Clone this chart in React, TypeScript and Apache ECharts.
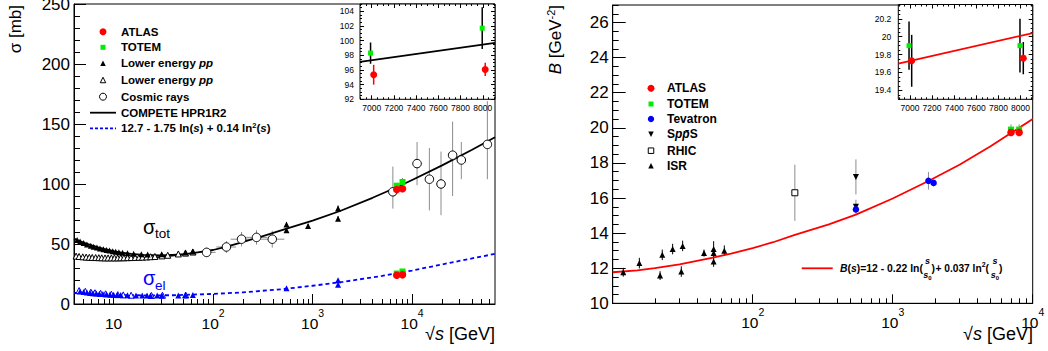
import React, { useEffect, useRef } from 'react';
import * as echarts from 'echarts';

const FONT = '"Liberation Sans", Arial, Helvetica, sans-serif';

// ================= LEFT PANEL: sigma_tot and sigma_el vs sqrt(s) =================
// low-energy total cross sections, filled triangles
const lowFilledSqrtS = [4.3, 4.6, 5.0, 5.4, 5.9, 6.3, 6.8, 7.3, 7.9, 8.5, 9.1, 9.8, 10.5, 11.3, 12.3, 13.8, 15.9, 19.0, 22.0, 30.4, 52.6, 62.3];
const lowFilledSigma = [53.3, 52.0, 50.8, 49.6, 48.6, 47.8, 47.0, 46.3, 45.6, 45.0, 44.5, 44.0, 43.6, 43.2, 42.8, 42.3, 41.8, 41.4, 41.2, 41.5, 43.0, 43.8];
// low-energy total cross sections, open triangles
const lowOpenSqrtS = [4.2, 4.5, 4.9, 5.3, 5.7, 6.1, 6.6, 7.1, 7.6, 8.2, 8.8, 9.5, 10.2, 11.0, 11.8, 12.7, 13.8, 15.0, 16.5, 18.0, 19.5, 21.5, 23.5, 26.0, 30.6, 35.0, 44.7, 52.8, 62.7];
const lowOpenSigma = [39.9, 39.6, 39.3, 39.1, 38.9, 38.8, 38.7, 38.6, 38.5, 38.4, 38.4, 38.4, 38.4, 38.4, 38.5, 38.5, 38.6, 38.7, 38.8, 38.9, 39.0, 39.2, 39.4, 39.6, 40.1, 40.6, 41.7, 42.4, 43.3];
// collider total cross sections (filled triangles)
const colliderSqrtS = [546, 546, 900, 1800, 1800];
const colliderSigma = [61.5, 66.3, 64.9, 71.1, 79.6];
const colliderErr = [1.5, 2.0, 1.8, 2.0, 2.4];
// cosmic rays
const cosmicSqrtS = [86, 136, 193, 273, 393, 6400, 11200, 14900, 19500, 25500, 31200, 57000];
const cosmicSigma = [43.0, 47.5, 54.0, 55.5, 54.0, 93.5, 117.0, 104.0, 100.0, 124.0, 120.0, 133.0];
const cosmicErrLow = [4, 5, 6, 6, 7, 14, 18, 26, 26, 34, 16, 29];
const cosmicErrHigh = [4, 5, 6, 6, 7, 21, 18, 26, 27, 28, 15, 36];
const cosmicSqrtSLow = [70, 108, 150, 215, 300, null, 10000, null, null, null, null, null];
const cosmicSqrtSHigh = [106, 170, 245, 350, 520, null, 12600, null, null, null, null, null];
// ATLAS / TOTEM
const lhcSqrtS = [7000, 8000];
const atlasSigmaTot = [95.35, 96.07];
const totemSigmaTot = [98.6, 101.7];
const totemSigmaTotErr = [2.2, 2.9];
const atlasSigmaEl = [24.0, 24.3];
const totemSigmaEl = [25.4, 27.1];
// elastic cross sections
const elFilledSqrtS = [4.6, 5.0, 5.4, 5.8, 6.2, 6.7, 7.2, 7.8, 8.5, 9.2, 10.0, 10.9, 11.8, 13.8, 16.8, 19.4, 21.7, 23.5, 27.4, 30.6, 44.7, 52.8, 62.5];
const elFilledSigma = [10.5, 9.9, 9.5, 9.2, 8.9, 8.7, 8.5, 8.3, 8.1, 7.9, 7.7, 7.6, 7.4, 7.3, 7.1, 7.0, 7.1, 7.0, 7.0, 7.0, 7.1, 7.2, 7.4];
const elOpenSqrtS = [4.5, 5.2, 5.9, 6.5, 7.4, 8.3, 9.5, 11.0, 12.5, 15.0, 24.0, 31.0, 53.0];
const elOpenSigma = [11.2, 10.6, 9.9, 9.4, 8.9, 8.5, 8.2, 7.8, 7.6, 7.3, 7.1, 7.3, 7.5];
const elColliderSqrtS = [546, 1800, 1800];
const elColliderSigma = [13.2, 16.0, 19.7];
const elColliderErr = [0.6, 0.8, 1.0];
// curves
const competeSqrtS = [4, 5, 6, 8, 10, 15, 20, 30, 50, 70, 100, 140, 186, 300, 548, 1000, 1888, 4000, 7000, 10000, 20000, 40000, 68000];
const competeSigma = [39.6, 39.0, 38.6, 38.2, 38.0, 38.0, 38.4, 39.3, 41.3, 43.0, 45.0, 48.0, 51.0, 56.0, 62.8, 69.5, 77.5, 88.5, 97.3, 103.3, 115.5, 128.5, 139.0];
const competeBarSqrtS = [4, 4.5, 5, 6, 7, 8, 10, 12, 15, 20, 30, 50];
const competeBarSigma = [54.5, 52.6, 51.2, 48.9, 47.2, 45.9, 44.0, 42.8, 41.7, 40.9, 40.6, 41.4];
const elFitSqrtS = [4, 6, 10, 20, 40, 100, 200, 500, 1000, 2000, 5000, 10000, 20000, 40000, 68000];
const elFitSigma = [9.0, 8.2, 7.6, 7.2, 7.3, 8.4, 9.7, 12.4, 15.2, 18.4, 23.4, 27.9, 33.0, 38.0, 41.8];
// inset (left)
const insetTotemX = [6990, 7995];
const insetAtlasX = [7018, 8022];
const insetTotemSigma = [98.3, 101.7];
const insetTotemErr = [1.45, 2.85];
const insetAtlasSigma = [95.35, 96.07];
const insetAtlasErr = [1.35, 0.9];
const insetCompeteX = [6895, 8110];
const insetCompeteSigma = [97.1, 99.7];

// ================= RIGHT PANEL: B vs sqrt(s) =================
const isrSqrtS = [11.9, 15.5, 21.8, 22.6, 26.8, 30.9, 31.6, 44.9, 52.6, 52.6, 52.6, 62.7];
const isrB = [11.77, 12.29, 11.58, 12.76, 13.09, 11.81, 13.27, 12.86, 13.09, 12.86, 12.38, 13.0];
const isrErr = [0.25, 0.3, 0.25, 0.3, 0.3, 0.3, 0.3, 0.2, 0.45, 0.3, 0.3, 0.3];
const rhicSqrtS = [200];
const rhicB = [16.3];
const rhicErr = [1.6];
const spsSqrtS = [546, 546];
const spsB = [17.2, 15.5];
const spsErr = [1.0, 0.4];
const tevSqrtS = [546, 1800, 1960];
const tevB = [15.35, 16.98, 16.86];
const tevErr = [0.2, 0.5, 0.2];
const atlasB = [19.73, 19.74];
const totemB = [19.9, 19.9];
const totemBErr = [0.3, 0.3];
const bFitSqrtS = [10, 15, 20, 30, 50, 70, 100, 140, 200, 350, 546, 1000, 1800, 3000, 5000, 7000, 10000];
const bFitB = [11.77, 11.88, 12.0, 12.22, 12.58, 12.83, 13.15, 13.48, 13.9, 14.5, 15.05, 15.97, 16.97, 17.9, 18.95, 19.7, 20.5];
// inset (right)
const insetBTotemX = [6992, 7995];
const insetBAtlasX = [7016, 8025];
const insetBTotem = [19.9, 19.9];
const insetBTotemErr = [0.27, 0.3];
const insetBAtlas = [19.73, 19.76];
const insetBAtlasErr = [0.29, 0.18];
const insetBFitX = [6895, 8110];
const insetBFit = [19.7, 20.04];

// ================= helpers =================
const lg = (v: number) => Math.log10(v);
const range = (a: number, b: number, s: number) => {
  const out: number[] = [];
  for (let v = a; v <= b + 1e-9; v += s) out.push(+v.toFixed(6));
  return out;
};
const logMinor = (lo: number, hi: number) => {
  const out: number[] = [];
  for (let d = -1; d <= 6; d++) for (let k = 2; k <= 9; k++) {
    const v = k * Math.pow(10, d);
    if (v >= lo && v <= hi) out.push(lg(v));
  }
  return out;
};
const ptsLog = (xs: number[], ys: number[]) => xs.map((x, i) => [lg(x), ys[i]]);
const pts = (xs: number[], ys: number[]) => xs.map((x, i) => [x, ys[i]]);
const errLog = (xs: number[], ys: number[], lo: number[], hi?: number[]) =>
  xs.map((x, i) => [lg(x), ys[i] - lo[i], ys[i] + (hi ? hi[i] : lo[i])]);
const errLin = (xs: number[], ys: number[], e: number[]) => xs.map((x, i) => [x, ys[i] - e[i], ys[i] + e[i]]);

function ax(grid: number, min: number, max: number, position: string, ticks: number[], len: number, extra: any = {}) {
  return {
    type: 'value', gridIndex: grid, min, max, position, z: extra.z ?? 0,
    axisLine: { show: !!extra.line, onZero: false, lineStyle: { color: '#000', width: 1 } },
    axisTick: { show: true, inside: true, length: len, customValues: ticks, lineStyle: { color: '#000', width: 1 } },
    axisLabel: extra.labels
      ? { show: true, customValues: extra.labels, formatter: extra.fmt, margin: extra.margin, color: '#000', fontSize: extra.fontSize, fontFamily: FONT, rich: extra.rich }
      : { show: false },
    splitLine: { show: false }, minorTick: { show: false }, minorSplitLine: { show: false },
    axisPointer: { show: false },
  };
}

function vErr(data: any[], color: string, xi: number, yi: number, z = 3, w = 1) {
  return {
    type: 'custom', xAxisIndex: xi, yAxisIndex: yi, z, silent: true, data,
    renderItem: (p: any, api: any) => {
      const a = api.coord([api.value(0), api.value(1)]);
      const b = api.coord([api.value(0), api.value(2)]);
      return { type: 'line', shape: { x1: a[0], y1: a[1], x2: b[0], y2: b[1] }, style: { stroke: color, lineWidth: w } };
    },
  };
}
function hErr(data: any[], color: string, xi: number, yi: number, z = 3) {
  return {
    type: 'custom', xAxisIndex: xi, yAxisIndex: yi, z, silent: true, data,
    renderItem: (p: any, api: any) => {
      const a = api.coord([api.value(0), api.value(2)]);
      const b = api.coord([api.value(1), api.value(2)]);
      return { type: 'line', shape: { x1: a[0], y1: a[1], x2: b[0], y2: b[1] }, style: { stroke: color, lineWidth: 1 } };
    },
  };
}
function sc(data: any[], symbol: string, size: number, fill: string, stroke: string | null, xi: number, yi: number, z = 5, rotate = 0) {
  return {
    type: 'scatter', xAxisIndex: xi, yAxisIndex: yi, z, silent: true, data, symbol, symbolSize: size, symbolRotate: rotate,
    itemStyle: { color: fill, borderColor: stroke || fill, borderWidth: stroke ? 1 : 0, opacity: 1 },
  };
}
function ln(data: any[], color: string, xi: number, yi: number, z = 4, dash: any = 'solid', w = 1.8) {
  return {
    type: 'line', xAxisIndex: xi, yAxisIndex: yi, z, silent: true, data, showSymbol: false, symbol: 'none',
    smooth: false,
    lineStyle: { color, width: w, type: dash, join: 'round' },
  };
}

// graphic helpers
const T = (x: number, y: number, text: string, s: any = {}) => ({
  type: 'text', x, y, z: 30, silent: true,
  style: { text, fill: '#000', fontFamily: FONT, fontSize: 11.5, fontWeight: 'bold', align: 'left', verticalAlign: 'middle', ...s },
});
const C = (cx: number, cy: number, r: number, fill: string, stroke?: string) => ({
  type: 'circle', z: 30, silent: true, shape: { cx, cy, r }, style: { fill, stroke: stroke || null, lineWidth: 1 },
});
const R = (cx: number, cy: number, s: number, fill: string, stroke?: string) => ({
  type: 'rect', z: 30, silent: true, shape: { x: cx - s / 2, y: cy - s / 2, width: s, height: s }, style: { fill, stroke: stroke || null, lineWidth: 1 },
});
const TRI = (cx: number, cy: number, s: number, fill: string, stroke?: string, down = false) => ({
  type: 'polygon', z: 30, silent: true,
  shape: { points: down ? [[cx - s / 2, cy - s / 2], [cx + s / 2, cy - s / 2], [cx, cy + s / 2]] : [[cx, cy - s / 2], [cx - s / 2, cy + s / 2], [cx + s / 2, cy + s / 2]] },
  style: { fill, stroke: stroke || null, lineWidth: 1 },
});
const SEG = (x1: number, y1: number, x2: number, y2: number, stroke: string, dash?: number[]) => ({
  type: 'line', z: 30, silent: true, shape: { x1, y1, x2, y2 }, style: { stroke, lineWidth: 1.8, lineDash: dash || null },
});

function buildOption() {
  const supRich = {
    b: { fontSize: 15.5, fontFamily: FONT, color: '#000', lineHeight: 24, verticalAlign: 'bottom' },
    e: { fontSize: 10.5, fontFamily: FONT, color: '#000', lineHeight: 10, verticalAlign: 'top' },
  };
  const powFmt = (v: number) => (Math.round(v) === 1 ? '{b|10}' : `{b|10}{e|${Math.round(v)}}`);
  const plain = (v: number) => String(Math.round(v * 10) / 10);

  const LXmin = lg(4), LXmax = lg(68000);
  const xAxis = [
    ax(0, LXmin, LXmax, 'bottom', [1, 2, 3, 4], 10, { line: true, labels: [1, 2, 3, 4], fmt: powFmt, rich: supRich, margin: 3 }),
    ax(0, LXmin, LXmax, 'bottom', logMinor(4, 68000), 5),
    ax(1, 6895, 8110, 'bottom', range(7000, 8000, 200), 4, { z: 11, labels: range(7000, 8000, 200), fmt: plain, fontSize: 8.5, margin: 4 }),
    ax(1, 6895, 8110, 'bottom', range(6900, 8100, 50), 2, { z: 11 }),
    ax(1, 6895, 8110, 'top', range(7000, 8000, 200), 4, { z: 11 }),
    ax(1, 6895, 8110, 'top', range(6900, 8100, 50), 2, { z: 11 }),
    ax(2, 1, 4, 'bottom', [1, 2, 3, 4], 9, { line: true, labels: [2, 3, 4], fmt: powFmt, rich: supRich, margin: 3 }),
    ax(2, 1, 4, 'bottom', logMinor(10, 10000), 5),
    ax(3, 6895, 8110, 'bottom', range(7000, 8000, 200), 4, { z: 11, labels: range(7000, 8000, 200), fmt: plain, fontSize: 8.5, margin: 4 }),
    ax(3, 6895, 8110, 'bottom', range(6900, 8100, 50), 2, { z: 11 }),
    ax(3, 6895, 8110, 'top', range(7000, 8000, 200), 4, { z: 11 }),
    ax(3, 6895, 8110, 'top', range(6900, 8100, 50), 2, { z: 11 }),
  ];
  const yAxis = [
    ax(0, 0, 250, 'left', range(0, 250, 50), 12, { line: true, labels: range(0, 250, 50), fmt: plain, fontSize: 17, margin: 4 }),
    ax(0, 0, 250, 'left', range(0, 250, 10), 6),
    ax(1, 92, 105, 'left', range(92, 104, 2), 4, { z: 11, labels: range(92, 104, 2), fmt: plain, fontSize: 8.5, margin: 6 }),
    ax(1, 92, 105, 'left', range(92, 105, 0.5), 2, { z: 11 }),
    ax(1, 92, 105, 'right', range(92, 104, 2), 4, { z: 11 }),
    ax(1, 92, 105, 'right', range(92, 105, 0.5), 2, { z: 11 }),
    ax(2, 10, 27, 'left', range(10, 26, 2), 13, { line: true, labels: range(10, 26, 2), fmt: plain, fontSize: 17, margin: 4 }),
    ax(2, 10, 27, 'left', range(10, 27, 0.5), 6),
    ax(3, 19.3, 20.36, 'left', range(19.4, 20.2, 0.2), 4, { z: 11, labels: range(19.4, 20.2, 0.2), fmt: plain, fontSize: 8.5, margin: 7 }),
    ax(3, 19.3, 20.36, 'left', range(19.3, 20.35, 0.05), 2, { z: 11 }),
    ax(3, 19.3, 20.36, 'right', range(19.4, 20.2, 0.2), 4, { z: 11 }),
    ax(3, 19.3, 20.36, 'right', range(19.3, 20.35, 0.05), 2, { z: 11 }),
  ];

  const gridBase = { show: true, borderColor: '#000', borderWidth: 1, containLabel: false, outerBoundsMode: 'none' };
  const grid = [
    { ...gridBase, left: 74, top: 4, width: 421, height: 300, backgroundColor: 'transparent', z: 0 },
    { ...gridBase, left: 360, top: 4, width: 135, height: 95.3, backgroundColor: '#fff', z: 10 },
    { ...gridBase, left: 612.7, top: 5, width: 420, height: 298.3, backgroundColor: 'transparent', z: 0 },
    { ...gridBase, left: 898.3, top: 4.5, width: 134.4, height: 94.8, backgroundColor: '#fff', z: 10 },
  ];

  const cosH: any[] = [];
  cosmicSqrtS.forEach((x, i) => {
    if (cosmicSqrtSLow[i] != null) cosH.push([lg(cosmicSqrtSLow[i] as number), lg(cosmicSqrtSHigh[i] as number), cosmicSigma[i]]);
  });

  const BLUE = '#0000ff', RED = '#ff0000', GREEN = '#00ee00', GRAY = '#8c8c8c';

  const series: any[] = [
    // ---- left main ----
    vErr(errLog(cosmicSqrtS, cosmicSigma, cosmicErrLow, cosmicErrHigh), GRAY, 0, 0, 2),
    hErr(cosH, GRAY, 0, 0, 2),
    vErr(errLog(colliderSqrtS, colliderSigma, colliderErr), '#000', 0, 0, 2),
    vErr(errLog(elColliderSqrtS, elColliderSigma, elColliderErr), BLUE, 0, 0, 2),
    vErr(errLog(lhcSqrtS, totemSigmaTot, totemSigmaTotErr), '#000', 0, 0, 2),
    ln(ptsLog(competeSqrtS, competeSigma), '#000', 0, 0, 3),
    ln(ptsLog(competeBarSqrtS, competeBarSigma), '#000', 0, 0, 3),
    ln(ptsLog(elFitSqrtS, elFitSigma), BLUE, 0, 0, 3, [4, 3]),
    sc(ptsLog(lowOpenSqrtS, lowOpenSigma), 'triangle', 6, '#fff', '#000', 0, 0, 4),
    sc(ptsLog(lowFilledSqrtS, lowFilledSigma), 'triangle', 6, '#000', null, 0, 0, 4),
    sc(ptsLog(colliderSqrtS, colliderSigma), 'triangle', 6, '#000', null, 0, 0, 4),
    sc(ptsLog(elOpenSqrtS, elOpenSigma), 'triangle', 6, '#fff', BLUE, 0, 0, 4),
    sc(ptsLog(elFilledSqrtS, elFilledSigma), 'triangle', 6, BLUE, null, 0, 0, 4),
    sc(ptsLog(elColliderSqrtS, elColliderSigma), 'triangle', 6, BLUE, null, 0, 0, 4),
    sc(ptsLog(cosmicSqrtS, cosmicSigma), 'circle', 8.5, '#fff', '#000', 0, 0, 4),
    sc(ptsLog(lhcSqrtS, totemSigmaTot), 'rect', 6, GREEN, null, 0, 0, 5),
    sc(ptsLog(lhcSqrtS, totemSigmaEl), 'rect', 6, GREEN, null, 0, 0, 5),
    sc(ptsLog(lhcSqrtS, atlasSigmaTot), 'circle', 7.5, RED, null, 0, 0, 6),
    sc(ptsLog(lhcSqrtS, atlasSigmaEl), 'circle', 7.5, RED, null, 0, 0, 6),
    // ---- left inset ----
    ln(pts(insetCompeteX, insetCompeteSigma), '#000', 2, 2, 12),
    vErr(errLin(insetTotemX, insetTotemSigma, insetTotemErr), '#000', 2, 2, 12, 1.5),
    vErr(errLin(insetAtlasX, insetAtlasSigma, insetAtlasErr), RED, 2, 2, 12, 1.5),
    sc(pts(insetTotemX, insetTotemSigma), 'rect', 5, GREEN, null, 2, 2, 13),
    sc(pts(insetAtlasX, insetAtlasSigma), 'circle', 7, RED, null, 2, 2, 13),
    // ---- right main ----
    vErr(errLog(isrSqrtS, isrB, isrErr), '#000', 6, 6, 2),
    vErr(errLog(rhicSqrtS, rhicB, rhicErr), GRAY, 6, 6, 2),
    vErr(errLog(spsSqrtS, spsB, spsErr), GRAY, 6, 6, 2),
    vErr(errLog(tevSqrtS, tevB, tevErr), GRAY, 6, 6, 2),
    vErr(errLog(lhcSqrtS, totemB, totemBErr), GRAY, 6, 6, 2),
    ln(ptsLog(bFitSqrtS, bFitB), RED, 6, 6, 3),
    sc(ptsLog(isrSqrtS, isrB), 'triangle', 6, '#000', null, 6, 6, 4),
    sc(ptsLog(rhicSqrtS, rhicB), 'rect', 6, '#fff', '#000', 6, 6, 4),
    sc(ptsLog(spsSqrtS, spsB), 'triangle', 6, '#000', null, 6, 6, 4, 180),
    sc(ptsLog(tevSqrtS, tevB), 'circle', 6.5, BLUE, null, 6, 6, 5),
    sc(ptsLog(lhcSqrtS, totemB), 'rect', 6, GREEN, null, 6, 6, 5),
    sc(ptsLog(lhcSqrtS, atlasB), 'circle', 7.5, RED, null, 6, 6, 6),
    // ---- right inset ----
    ln(pts(insetBFitX, insetBFit), RED, 8, 8, 12),
    vErr(errLin(insetBTotemX, insetBTotem, insetBTotemErr), '#000', 8, 8, 12, 1.5),
    vErr(errLin(insetBAtlasX, insetBAtlas, insetBAtlasErr), '#000', 8, 8, 12, 1.5),
    sc(pts(insetBTotemX, insetBTotem), 'rect', 5, GREEN, null, 8, 8, 13),
    sc(pts(insetBAtlasX, insetBAtlas), 'circle', 7, RED, null, 8, 8, 13),
  ];

  const it = { fontStyle: 'italic', fontWeight: 'bold', fontSize: 11.5, fontFamily: FONT, fill: '#000' };
  const sup7 = { fontSize: 7.5, fontWeight: 'bold', fontFamily: FONT, lineHeight: 8, verticalAlign: 'top', fill: '#000' };
  const fracDen = { fontSize: 9, align: 'center', lineHeight: 11, rich: { i: { ...it, fontSize: 9, lineHeight: 11 }, z: { fontSize: 6, fontWeight: 'bold', fontFamily: FONT, lineHeight: 7, verticalAlign: 'bottom' } } };
  const elements: any[] = [
    // axis titles
    { type: 'text', x: 15, y: 5, rotation: Math.PI / 2, z: 30, silent: true, style: { text: 'σ [mb]', fill: '#000', fontFamily: FONT, fontSize: 17, align: 'right', verticalAlign: 'middle' } },
    { type: 'text', x: 555, y: 5, rotation: Math.PI / 2, z: 30, silent: true, style: { text: '{i|B} [GeV{s|-2}]', fill: '#000', fontFamily: FONT, fontSize: 17, lineHeight: 20, align: 'right', verticalAlign: 'middle', rich: { i: { fontStyle: 'italic', fontSize: 17, fontFamily: FONT, lineHeight: 20 }, s: { fontSize: 11, fontFamily: FONT, lineHeight: 10, verticalAlign: 'top' } } } },
    { type: 'text', x: 495, y: 334, z: 30, silent: true, style: { text: '√{i|s} [GeV]', fill: '#000', fontFamily: FONT, fontSize: 18, align: 'right', verticalAlign: 'middle', rich: { i: { fontStyle: 'italic', fontSize: 18, fontFamily: FONT } } } },
    { type: 'text', x: 1033, y: 334, z: 30, silent: true, style: { text: '√{i|s} [GeV]', fill: '#000', fontFamily: FONT, fontSize: 18, align: 'right', verticalAlign: 'middle', rich: { i: { fontStyle: 'italic', fontSize: 18, fontFamily: FONT } } } },
    // sigma labels
    T(143, 226.7, 'σ', { fontSize: 20, fontWeight: 'normal' }),
    T(155, 233, 'tot', { fontSize: 13.5, fontWeight: 'normal' }),
    T(143, 278.3, 'σ', { fontSize: 20, fontWeight: 'normal', fill: BLUE }),
    T(155, 285, 'el', { fontSize: 13.5, fontWeight: 'normal', fill: BLUE }),
    // left legend
    C(103, 31.7, 3.5, RED), T(121, 31.7, 'ATLAS'),
    R(103, 47.3, 5, GREEN), T(121, 47.3, 'TOTEM'),
    TRI(103, 63.3, 5.5, '#000'), T(121, 63.3, 'Lower energy {i|pp}', { rich: { i: it } }),
    TRI(103, 80, 5.5, '#fff', '#000'), T(121, 80, 'Lower energy {i|pp}', { rich: { i: it } }),
    C(103, 96.7, 3.5, '#fff', '#000'), T(121, 96.7, 'Cosmic rays'),
    SEG(90, 112.7, 116, 112.7, '#000'), T(121, 112.7, 'COMPETE HPR1R2'),
    SEG(90, 128.3, 116, 128.3, BLUE, [3, 2]),
    T(121, 128.3, '12.7 - 1.75 ln({i|s}) + 0.14 ln{p|2}({i|s})', { lineHeight: 14, rich: { i: it, p: sup7 } }),
    // right legend
    C(651, 88.3, 3.5, RED), T(667, 88.3, 'ATLAS', { fontSize: 12 }),
    R(651, 104, 5, GREEN), T(667, 104, 'TOTEM', { fontSize: 12 }),
    C(651, 119, 3.2, BLUE), T(667, 119, 'Tevatron', { fontSize: 12 }),
    TRI(651, 134.3, 5.5, '#000', undefined, true), T(667, 134.3, 'S{i|pp̄}S', { fontSize: 12, rich: { i: { ...it, fontSize: 12 } } }),
    R(651, 150.7, 5.5, '#fff', '#000'), T(667, 150.7, 'RHIC', { fontSize: 12 }),
    TRI(651, 165.7, 5.5, '#000'), T(667, 165.7, 'ISR', { fontSize: 12 }),
    // right formula legend
    SEG(801.7, 268.3, 832.7, 268.3, RED),
    T(840, 268.3, '{i|B}({i|s})=12 - 0.22 ln(', { fontSize: 10.4, rich: { i: { ...it, fontSize: 10.4 } } }),
    T(927.5, 261.3, 's', { fontSize: 9, fontStyle: 'italic', align: 'center' }),
    T(927.5, 275, '{i|s}{z|0}', fracDen),
    T(931.5, 268.3, ')', { fontSize: 10.4 }),
    T(935.5, 268.3, '+ 0.037 ln{p|2}(', { fontSize: 10.2, lineHeight: 14, rich: { p: { ...sup7, fontSize: 7 } } }),
    T(995, 261.3, 's', { fontSize: 9, fontStyle: 'italic', align: 'center' }),
    T(995, 275, '{i|s}{z|0}', fracDen),
    T(999, 268.3, ')', { fontSize: 10.4 }),
  ];

  return {
    animation: false,
    backgroundColor: '#fff',
    textStyle: { fontFamily: FONT },
    grid, xAxis, yAxis, series,
    graphic: { elements },
  };
}

export default function App() {
  const ref = useRef<HTMLDivElement>(null);
  useEffect(() => {
    const chart = echarts.init(ref.current as HTMLDivElement, undefined, { renderer: 'svg' });
    chart.setOption(buildOption() as any);
    return () => chart.dispose();
  }, []);
  return <div ref={ref} style={{ position: 'fixed', left: 0, top: 0, width: 1048, height: 351, background: '#fff' }} />;
}
